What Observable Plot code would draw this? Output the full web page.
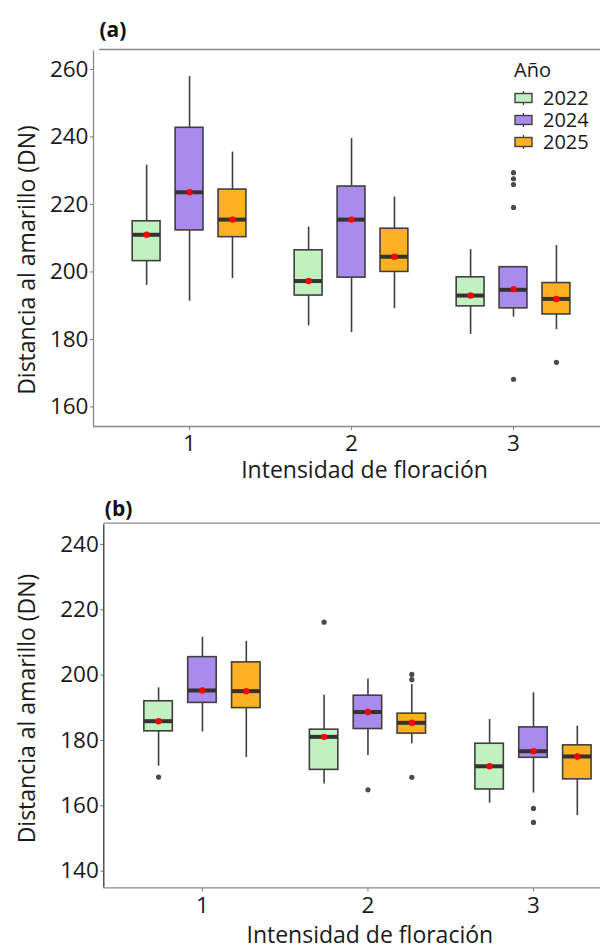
<!DOCTYPE html>
<html>
<head>
<meta charset="utf-8">
<script src="https://cdn.jsdelivr.net/npm/d3@7"></script>
<script src="https://cdn.jsdelivr.net/npm/@observablehq/plot@0.6"></script>
<style>
  body { margin: 0; background: #fff; }
  #wrap { position: relative; width: 600px; height: 952px; font-family: "Open Sans", "Noto Sans", sans-serif; }
  .panel { position: absolute; left: 0; }
  g[aria-label="y-axis tick"] path, g[aria-label="x-axis tick"] path { stroke: #777; }
</style>
</head>
<body>
<div id="wrap"></div>
<script>
// ---------- data ----------
const years = ["2022", "2024", "2025"];
const yearColors = ["#c1f0c1", "#a98bee", "#ffb121"];
const groups = [1, 2, 3];
const xTicks = [1, 2, 3];

// order: (group 1: 2022, 2024, 2025), (group 2: ...), (group 3: ...)
const grupo = [1, 1, 1, 2, 2, 2, 3, 3, 3];
const anio  = ["2022", "2024", "2025", "2022", "2024", "2025", "2022", "2024", "2025"];

// panel (a)
const aLo   = [196.0, 191.3, 198.0, 184.0, 182.0, 189.1, 181.5, 186.6, 182.9];
const aQ1   = [203.2, 212.3, 210.3, 193.0, 198.3, 200.0, 189.8, 189.2, 187.4];
const aMed  = [211.0, 223.6, 215.5, 197.3, 215.5, 204.5, 193.0, 194.7, 192.0];
const aQ3   = [215.0, 242.7, 224.4, 206.4, 225.3, 212.8, 198.4, 201.4, 196.7];
const aHi   = [231.6, 257.9, 235.5, 213.3, 239.5, 222.2, 206.6, 201.4, 207.8];
const aMean = [211.0, 223.6, 215.5, 197.3, 215.5, 204.5, 193.0, 194.9, 192.0];
const aOutG = [3, 3, 3, 3, 3, 3];
const aOutY = ["2024", "2024", "2024", "2024", "2024", "2025"];
const aOutV = [229.4, 227.6, 225.9, 219.1, 168.2, 173.2];
const aTicks = [160, 180, 200, 220, 240, 260];

// panel (b)
const bLo   = [172.1, 182.6, 174.8, 166.7, 175.4, 179.0, 160.8, 163.9, 157.0];
const bQ1   = [182.8, 191.5, 189.9, 171.0, 183.5, 182.1, 165.0, 174.7, 168.1];
const bMed  = [185.9, 195.3, 195.1, 181.1, 188.7, 185.4, 172.1, 176.7, 175.1];
const bQ3   = [192.0, 205.5, 203.9, 183.3, 193.7, 188.2, 179.0, 184.0, 178.5];
const bHi   = [196.1, 211.6, 210.3, 193.8, 198.8, 197.1, 186.4, 194.6, 184.4];
const bMean = [185.9, 195.3, 195.1, 181.1, 188.7, 185.4, 172.1, 176.7, 175.1];
const bOutG = [1, 2, 2, 2, 2, 2, 3, 3];
const bOutY = ["2022", "2022", "2024", "2025", "2025", "2025", "2024", "2024"];
const bOutV = [168.8, 216.2, 164.9, 200.2, 198.6, 168.7, 159.2, 154.9];
const bTicks = [140, 160, 180, 200, 220, 240];

const yTitle = "Distancia al amarillo (DN)";
const xTitle = "Intensidad de floración";
const legendTitle = "Año";

// ---------- drawing ----------
const FONT = '"Open Sans", "Noto Sans", sans-serif';
const offset = {"2022": -0.265, "2024": 0, "2025": 0.265};
const boxW = 0.172;

function panel(o) {
  const rows = grupo.map((g, i) => ({
    year: anio[i], x: g + offset[anio[i]],
    lo: o.lo[i], q1: o.q1[i], med: o.med[i], q3: o.q3[i], hi: o.hi[i], mean: o.mean[i]
  }));
  const outs = o.outG.map((g, i) => ({x: g + offset[o.outY[i]], v: o.outV[i]}));
  const [x0, x1] = o.xDomain;
  const [y0, y1] = o.yDomain;
  const edge = [{}];
  const stroke = "#3f3f3f";
  return Plot.plot({
    width: 600,
    height: o.height,
    marginTop: o.marginTop,
    marginBottom: o.marginBottom,
    marginLeft: o.marginLeft,
    marginRight: 0,
    style: {fontFamily: FONT, fontSize: "22.5px", color: "#1a1a1a", background: "white", overflow: "visible"},
    x: {type: "linear", domain: o.xDomain, ticks: xTicks, tickFormat: d => String(d), tickSize: 4, tickPadding: 5, label: null},
    y: {domain: o.yDomain, ticks: o.yTicks, tickSize: 3, tickPadding: 2, label: null},
    color: {domain: years, range: yearColors},
    marks: [
      // axis lines
      Plot.ruleX(edge, {x: x0, y1: y0, y2: y1 - (y1 - y0) * 0.004, stroke: o.leftColor, strokeWidth: 1.3}),
      Plot.ruleY(edge, {y: y0, x1: x0, x2: x1, stroke: "#888", strokeWidth: 1.3}),
      Plot.ruleY(edge, {y: y1, x1: x0 + o.topGap, x2: x1, stroke: "#888", strokeWidth: 1.3}),
      // whiskers
      Plot.ruleX(rows, {x: "x", y1: "q3", y2: "hi", stroke, strokeWidth: 1.6}),
      Plot.ruleX(rows, {x: "x", y1: "lo", y2: "q1", stroke, strokeWidth: 1.6}),
      // boxes
      Plot.rect(rows, {x1: d => d.x - boxW / 2, x2: d => d.x + boxW / 2, y1: "q1", y2: "q3", fill: "year", stroke, strokeWidth: 1.6}),
      // medians
      Plot.ruleY(rows, {y: "med", x1: d => d.x - boxW / 2, x2: d => d.x + boxW / 2, stroke: "#333", strokeWidth: 4}),
      // outliers
      Plot.dot(outs, {x: "x", y: "v", r: 2.6, fill: "#4a4a4a", stroke: "none"}),
      // means
      Plot.dot(rows, {x: "x", y: "mean", r: 3.2, fill: "red", stroke: "none"}),
      // panel tag
      Plot.text([o.tag], {frameAnchor: "top-left", dx: o.tagDx, dy: o.tagDy, textAnchor: "start", fontWeight: "bold", fontSize: 21, fill: "#111"}),
      // axis titles
      Plot.text([yTitle], {frameAnchor: "left", rotate: -90, dx: o.yTitleDx, dy: o.yTitleDy, textAnchor: "middle", fontSize: 23, fill: "#1a1a1a"}),
      Plot.text([xTitle], {frameAnchor: "bottom-left", dx: o.xTitleDx, dy: o.xTitleDy, textAnchor: "middle", fontSize: 23, fill: "#1a1a1a"})
    ]
  });
}

const wrap = document.getElementById("wrap");

const pa = panel({
  lo: aLo, q1: aQ1, med: aMed, q3: aQ3, hi: aHi, mean: aMean,
  outG: aOutG, outY: aOutY, outV: aOutV, yTicks: aTicks,
  height: 490, marginTop: 49, marginBottom: 64, marginLeft: 93,
  xDomain: [0.407, 3.537], yDomain: [154.2, 265.9], leftColor: "#888", topGap: 0.037,
  tag: "(a)", tagDx: 6, tagDy: -27,
  yTitleDx: -66, yTitleDy: 22, xTitleDx: 271, xTitleDy: 51.5
});
pa.classList.add("panel");
pa.style.top = "0px";
wrap.appendChild(pa);

// legend inside panel (a)
{
  const svg = d3.select(pa);
  const g = svg.append("g").attr("font-family", FONT).attr("text-anchor", "start");
  g.append("text").attr("x", 514).attr("y", 70).attr("dy", "0.35em")
    .attr("font-size", 20).attr("fill", "#1a1a1a").text(legendTitle);
  years.forEach((yr, i) => {
    const cy = 98 + i * 22;
    g.append("line").attr("x1", 523.5).attr("x2", 523.5).attr("y1", cy - 7).attr("y2", cy + 7)
      .attr("stroke", "#3f3f3f").attr("stroke-width", 1.3);
    g.append("rect").attr("x", 515).attr("y", cy - 4.5).attr("width", 17).attr("height", 9)
      .attr("fill", yearColors[i]).attr("stroke", "#3f3f3f").attr("stroke-width", 1.4);
    g.append("text").attr("x", 543).attr("y", cy).attr("dy", "0.35em")
      .attr("font-size", 20).attr("fill", "#1a1a1a").text(yr);
  });
}

const pb = panel({
  lo: bLo, q1: bQ1, med: bMed, q3: bQ3, hi: bHi, mean: bMean,
  outG: bOutG, outY: bOutY, outV: bOutV, yTicks: bTicks,
  height: 462, marginTop: 32.7, marginBottom: 64.7, marginLeft: 103.3,
  xDomain: [0.404, 3.405], yDomain: [134.9, 246.5], leftColor: "#333", topGap: 0.0,
  tag: "(b)", tagDx: 1, tagDy: -22,
  yTitleDx: -76, yTitleDy: 3, xTitleDx: 266, xTitleDy: 55
});
pb.classList.add("panel");
pb.style.top = "490px";
wrap.appendChild(pb);
</script>
</body>
</html>
